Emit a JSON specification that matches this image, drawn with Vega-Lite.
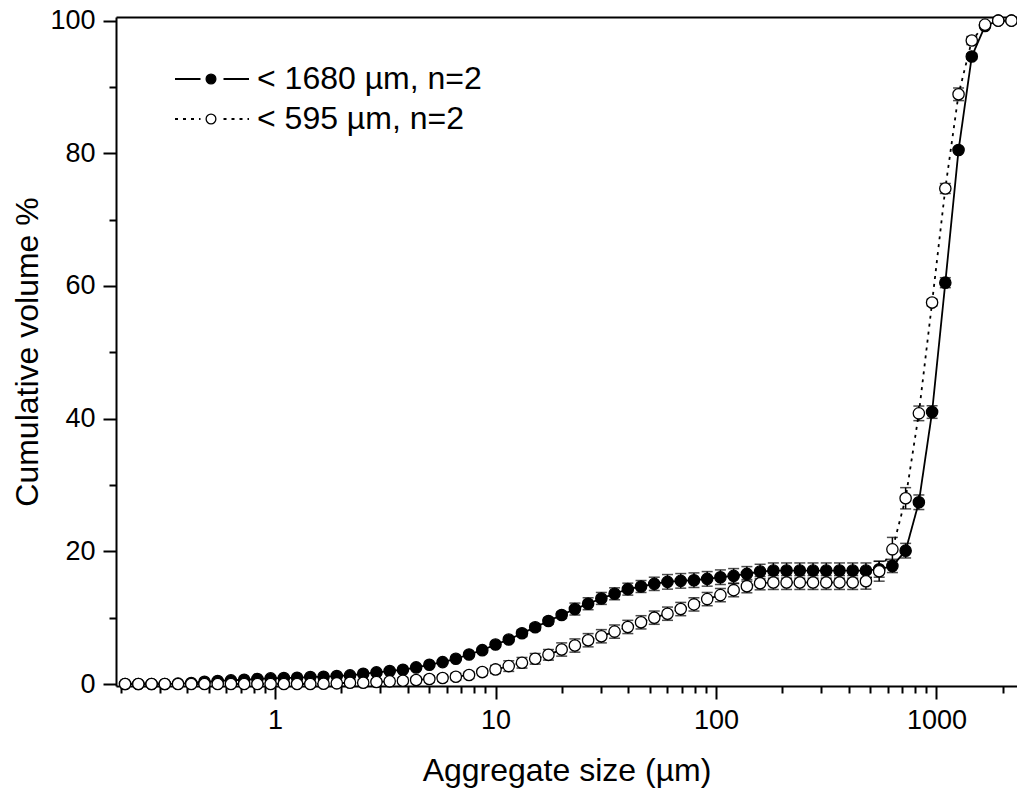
{
  "$schema": "https://vega.github.io/schema/vega-lite/v6.json",
  "width": 901,
  "height": 669,
  "autosize": {"type": "none"},
  "padding": {"left": 116, "top": 17, "right": 0, "bottom": 110},
  "background": "white",
  "config": {
    "view": {"stroke": null},
    "axis": {"domainColor": "black", "domainWidth": 2, "tickColor": "black", "tickWidth": 2, "labelFont": "Liberation Sans", "labelFontSize": 27, "labelColor": "black", "titleFont": "Liberation Sans", "titleFontSize": 32, "titleFontWeight": "normal", "titleColor": "black", "grid": false, "labelFlush": false, "labelOverlap": false}
  },
  "data": {"values": [
    {"s": "< 1680 µm, n=2", "x": 0.2089, "v": 0, "e": 0.1},
    {"s": "< 1680 µm, n=2", "x": 0.2399, "v": 0, "e": 0.1},
    {"s": "< 1680 µm, n=2", "x": 0.2754, "v": 0, "e": 0.1},
    {"s": "< 1680 µm, n=2", "x": 0.3162, "v": 0, "e": 0.1},
    {"s": "< 1680 µm, n=2", "x": 0.3631, "v": 0.05, "e": 0.1},
    {"s": "< 1680 µm, n=2", "x": 0.4169, "v": 0.15, "e": 0.1},
    {"s": "< 1680 µm, n=2", "x": 0.4786, "v": 0.35, "e": 0.1},
    {"s": "< 1680 µm, n=2", "x": 0.5495, "v": 0.45, "e": 0.1},
    {"s": "< 1680 µm, n=2", "x": 0.631, "v": 0.55, "e": 0.1},
    {"s": "< 1680 µm, n=2", "x": 0.7244, "v": 0.65, "e": 0.1},
    {"s": "< 1680 µm, n=2", "x": 0.8318, "v": 0.75, "e": 0.1},
    {"s": "< 1680 µm, n=2", "x": 0.955, "v": 0.85, "e": 0.1},
    {"s": "< 1680 µm, n=2", "x": 1.0965, "v": 0.9, "e": 0.1},
    {"s": "< 1680 µm, n=2", "x": 1.2589, "v": 0.95, "e": 0.1},
    {"s": "< 1680 µm, n=2", "x": 1.4454, "v": 1.05, "e": 0.1},
    {"s": "< 1680 µm, n=2", "x": 1.6596, "v": 1.1, "e": 0.1},
    {"s": "< 1680 µm, n=2", "x": 1.9055, "v": 1.2, "e": 0.1},
    {"s": "< 1680 µm, n=2", "x": 2.1878, "v": 1.3, "e": 0.1},
    {"s": "< 1680 µm, n=2", "x": 2.5119, "v": 1.55, "e": 0.2},
    {"s": "< 1680 µm, n=2", "x": 2.884, "v": 1.75, "e": 0.2},
    {"s": "< 1680 µm, n=2", "x": 3.3113, "v": 1.95, "e": 0.2},
    {"s": "< 1680 µm, n=2", "x": 3.8019, "v": 2.15, "e": 0.2},
    {"s": "< 1680 µm, n=2", "x": 4.3652, "v": 2.5, "e": 0.2},
    {"s": "< 1680 µm, n=2", "x": 5.0119, "v": 2.9, "e": 0.2},
    {"s": "< 1680 µm, n=2", "x": 5.7544, "v": 3.3, "e": 0.2},
    {"s": "< 1680 µm, n=2", "x": 6.6069, "v": 3.8, "e": 0.2},
    {"s": "< 1680 µm, n=2", "x": 7.5858, "v": 4.45, "e": 0.3},
    {"s": "< 1680 µm, n=2", "x": 8.7096, "v": 5.1, "e": 0.3},
    {"s": "< 1680 µm, n=2", "x": 10, "v": 5.95, "e": 0.3},
    {"s": "< 1680 µm, n=2", "x": 11.482, "v": 6.7, "e": 0.3},
    {"s": "< 1680 µm, n=2", "x": 13.183, "v": 7.65, "e": 0.5},
    {"s": "< 1680 µm, n=2", "x": 15.136, "v": 8.55, "e": 0.5},
    {"s": "< 1680 µm, n=2", "x": 17.378, "v": 9.5, "e": 0.5},
    {"s": "< 1680 µm, n=2", "x": 19.953, "v": 10.4, "e": 0.5},
    {"s": "< 1680 µm, n=2", "x": 22.909, "v": 11.3, "e": 0.9},
    {"s": "< 1680 µm, n=2", "x": 26.303, "v": 12.1, "e": 0.9},
    {"s": "< 1680 µm, n=2", "x": 30.2, "v": 12.9, "e": 0.9},
    {"s": "< 1680 µm, n=2", "x": 34.674, "v": 13.6, "e": 0.9},
    {"s": "< 1680 µm, n=2", "x": 39.811, "v": 14.3, "e": 0.9},
    {"s": "< 1680 µm, n=2", "x": 45.709, "v": 14.7, "e": 0.9},
    {"s": "< 1680 µm, n=2", "x": 52.481, "v": 15.1, "e": 1.0},
    {"s": "< 1680 µm, n=2", "x": 60.256, "v": 15.4, "e": 1.1},
    {"s": "< 1680 µm, n=2", "x": 69.183, "v": 15.55, "e": 1.1},
    {"s": "< 1680 µm, n=2", "x": 79.433, "v": 15.65, "e": 1.1},
    {"s": "< 1680 µm, n=2", "x": 91.201, "v": 15.85, "e": 1.1},
    {"s": "< 1680 µm, n=2", "x": 104.71, "v": 16.1, "e": 1.1},
    {"s": "< 1680 µm, n=2", "x": 120.23, "v": 16.3, "e": 1.1},
    {"s": "< 1680 µm, n=2", "x": 138.04, "v": 16.6, "e": 1.1},
    {"s": "< 1680 µm, n=2", "x": 158.49, "v": 16.95, "e": 1.1},
    {"s": "< 1680 µm, n=2", "x": 181.97, "v": 17.1, "e": 1.15},
    {"s": "< 1680 µm, n=2", "x": 208.93, "v": 17.1, "e": 1.15},
    {"s": "< 1680 µm, n=2", "x": 239.88, "v": 17.1, "e": 1.15},
    {"s": "< 1680 µm, n=2", "x": 275.42, "v": 17.1, "e": 1.15},
    {"s": "< 1680 µm, n=2", "x": 316.23, "v": 17.1, "e": 1.15},
    {"s": "< 1680 µm, n=2", "x": 363.08, "v": 17.1, "e": 1.15},
    {"s": "< 1680 µm, n=2", "x": 416.87, "v": 17.1, "e": 1.15},
    {"s": "< 1680 µm, n=2", "x": 478.63, "v": 17.1, "e": 1.15},
    {"s": "< 1680 µm, n=2", "x": 549.54, "v": 17.3, "e": 1.2},
    {"s": "< 1680 µm, n=2", "x": 630.96, "v": 17.8, "e": 1.0},
    {"s": "< 1680 µm, n=2", "x": 724.44, "v": 20.1, "e": 1.1},
    {"s": "< 1680 µm, n=2", "x": 831.76, "v": 27.4, "e": 1.1},
    {"s": "< 1680 µm, n=2", "x": 954.99, "v": 41.0, "e": 0.95},
    {"s": "< 1680 µm, n=2", "x": 1096.5, "v": 60.5, "e": 0.75},
    {"s": "< 1680 µm, n=2", "x": 1258.9, "v": 80.5, "e": 0.4},
    {"s": "< 1680 µm, n=2", "x": 1445.4, "v": 94.6, "e": 0.4},
    {"s": "< 1680 µm, n=2", "x": 1659.6, "v": 99.2, "e": 0.3},
    {"s": "< 1680 µm, n=2", "x": 1905.5, "v": 100, "e": 0.1},
    {"s": "< 1680 µm, n=2", "x": 2187.8, "v": 100, "e": 0},
    {"s": "< 595 µm, n=2", "x": 0.2089, "v": 0, "e": 0},
    {"s": "< 595 µm, n=2", "x": 0.2399, "v": 0, "e": 0},
    {"s": "< 595 µm, n=2", "x": 0.2754, "v": 0, "e": 0},
    {"s": "< 595 µm, n=2", "x": 0.3162, "v": 0, "e": 0},
    {"s": "< 595 µm, n=2", "x": 0.3631, "v": 0, "e": 0},
    {"s": "< 595 µm, n=2", "x": 0.4169, "v": 0, "e": 0},
    {"s": "< 595 µm, n=2", "x": 0.4786, "v": 0, "e": 0.4},
    {"s": "< 595 µm, n=2", "x": 0.5495, "v": 0, "e": 0.4},
    {"s": "< 595 µm, n=2", "x": 0.631, "v": 0, "e": 0.4},
    {"s": "< 595 µm, n=2", "x": 0.7244, "v": 0, "e": 0.4},
    {"s": "< 595 µm, n=2", "x": 0.8318, "v": 0, "e": 0.4},
    {"s": "< 595 µm, n=2", "x": 0.955, "v": 0, "e": 0.4},
    {"s": "< 595 µm, n=2", "x": 1.0965, "v": 0, "e": 0.4},
    {"s": "< 595 µm, n=2", "x": 1.2589, "v": 0, "e": 0.4},
    {"s": "< 595 µm, n=2", "x": 1.4454, "v": 0, "e": 0.45},
    {"s": "< 595 µm, n=2", "x": 1.6596, "v": 0.05, "e": 0.45},
    {"s": "< 595 µm, n=2", "x": 1.9055, "v": 0.1, "e": 0.45},
    {"s": "< 595 µm, n=2", "x": 2.1878, "v": 0.2, "e": 0.45},
    {"s": "< 595 µm, n=2", "x": 2.5119, "v": 0.2, "e": 0.45},
    {"s": "< 595 µm, n=2", "x": 2.884, "v": 0.3, "e": 0.45},
    {"s": "< 595 µm, n=2", "x": 3.3113, "v": 0.4, "e": 0.45},
    {"s": "< 595 µm, n=2", "x": 3.8019, "v": 0.5, "e": 0.45},
    {"s": "< 595 µm, n=2", "x": 4.3652, "v": 0.6, "e": 0.45},
    {"s": "< 595 µm, n=2", "x": 5.0119, "v": 0.75, "e": 0.5},
    {"s": "< 595 µm, n=2", "x": 5.7544, "v": 0.9, "e": 0.5},
    {"s": "< 595 µm, n=2", "x": 6.6069, "v": 1.1, "e": 0.5},
    {"s": "< 595 µm, n=2", "x": 7.5858, "v": 1.35, "e": 0.5},
    {"s": "< 595 µm, n=2", "x": 8.7096, "v": 1.8, "e": 0.5},
    {"s": "< 595 µm, n=2", "x": 10, "v": 2.2, "e": 0.6},
    {"s": "< 595 µm, n=2", "x": 11.482, "v": 2.7, "e": 0.8},
    {"s": "< 595 µm, n=2", "x": 13.183, "v": 3.2, "e": 0.8},
    {"s": "< 595 µm, n=2", "x": 15.136, "v": 3.8, "e": 0.8},
    {"s": "< 595 µm, n=2", "x": 17.378, "v": 4.4, "e": 0.8},
    {"s": "< 595 µm, n=2", "x": 19.953, "v": 5.2, "e": 1.0},
    {"s": "< 595 µm, n=2", "x": 22.909, "v": 5.8, "e": 1.0},
    {"s": "< 595 µm, n=2", "x": 26.303, "v": 6.6, "e": 1.0},
    {"s": "< 595 µm, n=2", "x": 30.2, "v": 7.2, "e": 1.0},
    {"s": "< 595 µm, n=2", "x": 34.674, "v": 7.9, "e": 1.0},
    {"s": "< 595 µm, n=2", "x": 39.811, "v": 8.6, "e": 1.0},
    {"s": "< 595 µm, n=2", "x": 45.709, "v": 9.3, "e": 1.0},
    {"s": "< 595 µm, n=2", "x": 52.481, "v": 10.0, "e": 1.0},
    {"s": "< 595 µm, n=2", "x": 60.256, "v": 10.6, "e": 1.0},
    {"s": "< 595 µm, n=2", "x": 69.183, "v": 11.3, "e": 1.0},
    {"s": "< 595 µm, n=2", "x": 79.433, "v": 12.0, "e": 1.0},
    {"s": "< 595 µm, n=2", "x": 91.201, "v": 12.8, "e": 1.0},
    {"s": "< 595 µm, n=2", "x": 104.71, "v": 13.4, "e": 1.0},
    {"s": "< 595 µm, n=2", "x": 120.23, "v": 14.15, "e": 1.0},
    {"s": "< 595 µm, n=2", "x": 138.04, "v": 14.75, "e": 1.0},
    {"s": "< 595 µm, n=2", "x": 158.49, "v": 15.2, "e": 1.0},
    {"s": "< 595 µm, n=2", "x": 181.97, "v": 15.3, "e": 1.05},
    {"s": "< 595 µm, n=2", "x": 208.93, "v": 15.3, "e": 1.05},
    {"s": "< 595 µm, n=2", "x": 239.88, "v": 15.3, "e": 1.05},
    {"s": "< 595 µm, n=2", "x": 275.42, "v": 15.3, "e": 1.05},
    {"s": "< 595 µm, n=2", "x": 316.23, "v": 15.3, "e": 1.05},
    {"s": "< 595 µm, n=2", "x": 363.08, "v": 15.3, "e": 1.05},
    {"s": "< 595 µm, n=2", "x": 416.87, "v": 15.3, "e": 1.05},
    {"s": "< 595 µm, n=2", "x": 478.63, "v": 15.5, "e": 1.2},
    {"s": "< 595 µm, n=2", "x": 549.54, "v": 17.0, "e": 1.5},
    {"s": "< 595 µm, n=2", "x": 630.96, "v": 20.3, "e": 1.8},
    {"s": "< 595 µm, n=2", "x": 724.44, "v": 28.0, "e": 1.6},
    {"s": "< 595 µm, n=2", "x": 831.76, "v": 40.8, "e": 1.1},
    {"s": "< 595 µm, n=2", "x": 954.99, "v": 57.5, "e": 0.5},
    {"s": "< 595 µm, n=2", "x": 1096.5, "v": 74.7, "e": 0.75},
    {"s": "< 595 µm, n=2", "x": 1258.9, "v": 88.9, "e": 0.95},
    {"s": "< 595 µm, n=2", "x": 1445.4, "v": 97.0, "e": 0.6},
    {"s": "< 595 µm, n=2", "x": 1659.6, "v": 99.4, "e": 0.4},
    {"s": "< 595 µm, n=2", "x": 1905.5, "v": 100, "e": 0.1},
    {"s": "< 595 µm, n=2", "x": 2187.8, "v": 100, "e": 0}
  ]},
  "resolve": {"axis": {"x": "independent", "y": "independent"}},
  "layer": [
    {
      "mark": {"type": "line", "color": "black", "strokeWidth": 1.8},
      "encoding": {
        "x": {"field": "x", "type": "quantitative",
          "scale": {"type": "log", "domain": [0.19, 2318], "nice": false},
          "axis": {"orient": "bottom", "title": "Aggregate size (µm)",
            "values": [0.2,0.3,0.4,0.5,0.6,0.7,0.8,0.9,1,2,3,4,5,6,7,8,9,10,20,30,40,50,60,70,80,90,100,200,300,400,500,600,700,800,900,1000,2000],
            "labelExpr": "(datum.value == 1 || datum.value == 10 || datum.value == 100 || datum.value == 1000) ? format(datum.value, 'd') : ''",
            "tickSize": {"condition": {"test": "datum.value == 1 || datum.value == 10 || datum.value == 100 || datum.value == 1000", "value": 13}, "value": 7},
            "labelPadding": 8, "titlePadding": 22}},
        "y": {"field": "v", "type": "quantitative",
          "scale": {"domain": [-0.3, 100.55], "nice": false, "zero": false},
          "axis": {"title": "Cumulative volume %",
            "values": [0,10,20,30,40,50,60,70,80,90,100],
            "labelExpr": "datum.value % 20 == 0 ? datum.label : ''",
            "tickSize": {"condition": {"test": "datum.value % 20 == 0", "value": 13}, "value": 7},
            "labelPadding": 8, "titlePadding": 5}},
        "strokeDash": {"field": "s", "type": "nominal",
          "scale": {"range": [[1, 0], [3, 5]]},
          "legend": {"orient": "none", "legendX": 80, "legendY": 46, "title": null, "padding": 0,
            "symbolType": "M-3.7,0L-1.15,0M1.15,0L3.7,0", "symbolSize": 400,
            "symbolStrokeColor": "black", "symbolStrokeWidth": 1.8,
            "labelFont": "Liberation Sans", "labelFontSize": 32, "labelOpacity": 0, "labelOffset": 30, "labelLimit": 600, "rowPadding": 8}}
      }
    },
    {
      "mark": {"type": "errorbar", "color": "black", "thickness": 1.5, "ticks": {"size": 11, "thickness": 1.5, "color": "black"}},
      "encoding": {
        "x": {"field": "x", "type": "quantitative", "axis": null},
        "y": {"field": "v", "type": "quantitative", "axis": null},
        "yError": {"field": "e"}
      }
    },
    {
      "mark": {"type": "point", "shape": "circle", "filled": true, "size": 128, "stroke": "black", "strokeWidth": 1.3, "opacity": 1},
      "encoding": {
        "x": {"field": "x", "type": "quantitative",
          "axis": {"orient": "top", "ticks": false, "labels": false, "title": null, "domain": true}},
        "y": {"field": "v", "type": "quantitative", "axis": null},
        "fill": {"field": "s", "type": "nominal",
          "scale": {"domain": ["< 1680 µm, n=2", "< 595 µm, n=2"], "range": ["black", "white"]},
          "legend": {"orient": "none", "legendX": 79, "legendY": 46, "title": null, "padding": 0,
            "symbolType": "circle", "symbolSize": 95, "symbolStrokeColor": "black", "symbolStrokeWidth": 1.3,
            "labelFont": "Liberation Sans", "labelFontSize": 32, "labelColor": "black", "labelOffset": 30, "labelLimit": 600, "rowPadding": 8}}
      }
    }
  ]
}
